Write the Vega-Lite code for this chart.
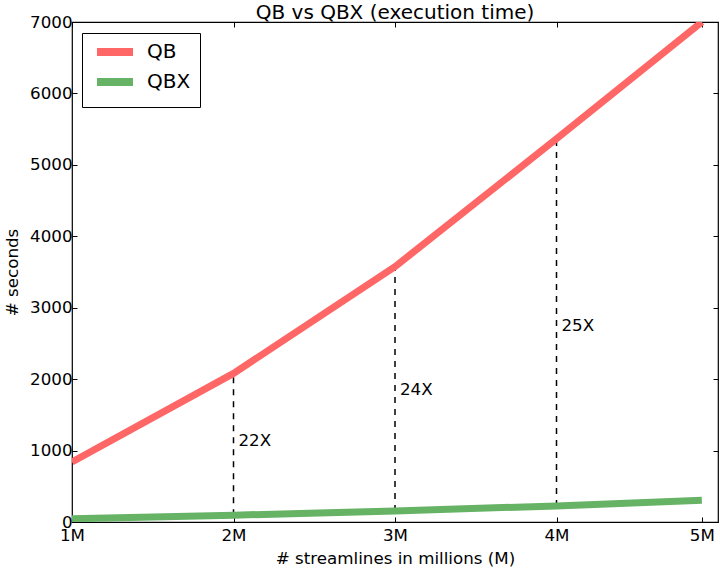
{
  "$schema": "https://vega.github.io/schema/vega-lite/v6.json",
  "width": 646,
  "height": 500,
  "autosize": {"type": "none"},
  "padding": {"left": 72, "top": 22, "right": 2, "bottom": 48},
  "config": {
    "view": {"stroke": "black", "strokeWidth": 1.2},
    "font": "DejaVu Sans",
    "axis": {
      "grid": false,
      "domain": false,
      "tickColor": "black",
      "tickSize": -5,
      "labelColor": "black",
      "titleColor": "black",
      "labelFontSize": 16.7,
      "titleFontSize": 16.7,
      "titleFontWeight": "normal",
      "labelFlush": false,
      "labelOverlap": false
    }
  },
  "title": {"text": "QB vs QBX (execution time)", "fontSize": 20, "fontWeight": "normal", "offset": 5, "dy": 14, "color": "black"},
  "datasets": {
    "lines": [
      {"x": 1, "series": "QB", "y": 840},
      {"x": 2, "series": "QB", "y": 2080},
      {"x": 3, "series": "QB", "y": 3575},
      {"x": 4, "series": "QB", "y": 5365},
      {"x": 4.9, "series": "QB", "y": 7000},
      {"x": 1, "series": "QBX", "y": 45},
      {"x": 2, "series": "QBX", "y": 95},
      {"x": 3, "series": "QBX", "y": 155},
      {"x": 4, "series": "QBX", "y": 225},
      {"x": 4.9, "series": "QBX", "y": 305}
    ],
    "gaps": [
      {"x": 2, "lo": 95, "hi": 2080, "label": "22X", "ly": 1140},
      {"x": 3, "lo": 155, "hi": 3575, "label": "24X", "ly": 1845},
      {"x": 4, "lo": 225, "hi": 5365, "label": "25X", "ly": 2750}
    ]
  },
  "resolve": {"axis": {"x": "independent", "y": "independent"}},
  "layer": [
    {
      "data": {"name": "gaps"},
      "mark": {"type": "rule", "strokeDash": [6, 6], "color": "black", "strokeWidth": 1.5},
      "encoding": {
        "x": {"field": "x", "type": "quantitative", "scale": {"domain": [1, 5]},
          "axis": {"orient": "top", "values": [1, 2, 3, 4, 4.9], "labels": false, "title": null}},
        "y": {"field": "lo", "type": "quantitative", "scale": {"domain": [0, 7000]},
          "axis": {"orient": "right", "values": [0, 1000, 2000, 3000, 4000, 5000, 6000, 7000], "labels": false, "title": null}},
        "y2": {"field": "hi"}
      }
    },
    {
      "data": {"name": "lines"},
      "mark": {"type": "line", "strokeWidth": 7, "strokeCap": "butt", "clip": true},
      "encoding": {
        "x": {"field": "x", "type": "quantitative", "scale": {"domain": [1, 5]},
          "axis": {"orient": "bottom", "values": [1, 2, 3, 4, 4.9], "labelExpr": "round(datum.value) + 'M'", "title": "# streamlines in millions (M)", "labelPadding": 10, "titlePadding": 7}},
        "y": {"field": "y", "type": "quantitative", "scale": {"domain": [0, 7000]},
          "axis": {"orient": "left", "values": [0, 1000, 2000, 3000, 4000, 5000, 6000, 7000], "format": "d", "title": "# seconds", "labelPadding": 5, "titlePadding": 8}},
        "color": {"field": "series", "type": "nominal",
          "scale": {"domain": ["QB", "QBX"], "range": ["#ff6666", "#66b366"]},
          "legend": {"orient": "none", "legendX": 10, "legendY": 11, "title": null,
            "symbolType": "M-3,0H3", "symbolStrokeWidth": 8, "symbolSize": 144, "symbolOffset": 14,
            "labelFontSize": 20, "labelColor": "black", "strokeColor": "black", "fillColor": "white",
            "padding": 9, "rowPadding": -2, "labelOffset": 22, "symbolOpacity": 1, "cornerRadius": 0}}
      }
    },
    {
      "data": {"name": "gaps"},
      "mark": {"type": "text", "align": "left", "baseline": "middle", "dx": 5, "fontSize": 16.7, "color": "black"},
      "encoding": {
        "x": {"field": "x", "type": "quantitative", "axis": null},
        "y": {"field": "ly", "type": "quantitative", "axis": null},
        "text": {"field": "label"}
      }
    }
  ]
}
